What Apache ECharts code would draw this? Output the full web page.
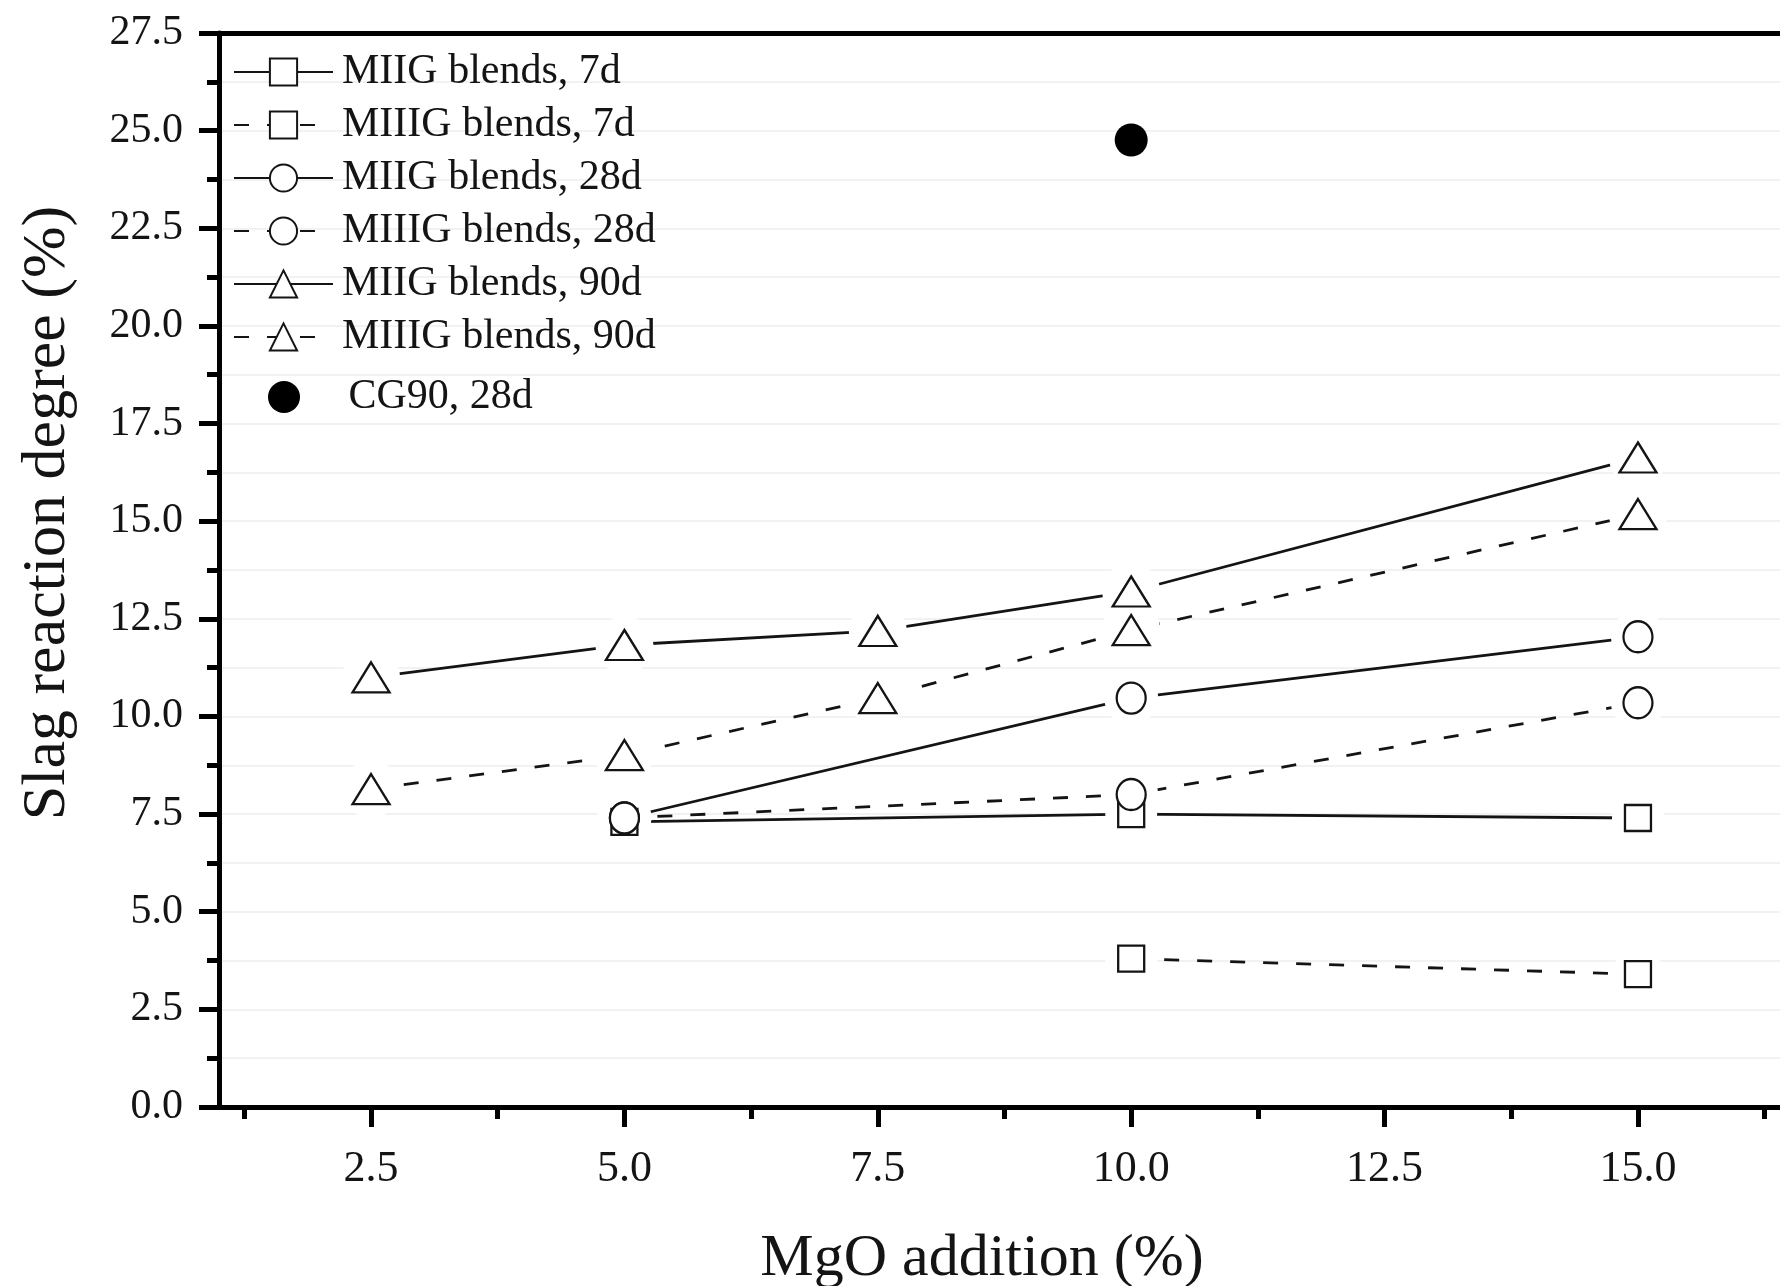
<!DOCTYPE html>
<html>
<head>
<meta charset="utf-8">
<title>Slag reaction degree vs MgO addition</title>
<script src="https://cdn.jsdelivr.net/npm/echarts@6/dist/echarts.min.js"></script>
<style>
  html, body { margin: 0; padding: 0; background: #ffffff; }
  #chart { width: 1780px; height: 1286px; }
</style>
</head>
<body>
<div id="chart"></div>
<script>
// Tick positions on the MgO axis
const xMajorTicks = [2.5, 5.0, 7.5, 10.0, 12.5, 15.0];
const xMinorTicks = [1.25, 3.75, 6.25, 8.75, 11.25, 13.75, 16.25];

// Slag reaction degree (%) against MgO addition (%)
const miig7d   = [[5.0, 7.3], [10.0, 7.5], [15.0, 7.4]];
const miiig7d  = [[10.0, 3.8], [15.0, 3.4]];
const miig28d  = [[5.0, 7.4], [10.0, 10.47], [15.0, 12.04]];
const miiig28d = [[5.0, 7.4], [10.0, 8.0], [15.0, 10.35]];
const miig90d  = [[2.5, 11.0], [5.0, 11.83], [7.5, 12.19], [10.0, 13.2], [15.0, 16.63]];
const miiig90d = [[2.5, 8.14], [5.0, 9.01], [7.5, 10.47], [10.0, 12.21], [15.0, 15.18]];
const cg90_28d = [[10.0, 24.76]];

const FONT = '"Liberation Serif", "Times New Roman", serif';
const INK = '#141414';
const DASH = [15, 18];

const blendSeries = [
  { name: 'MIIG blends, 7d',   data: miig7d,   symbol: 'rect',     size: [26, 26], clear: 52, dashed: false },
  { name: 'MIIIG blends, 7d',  data: miiig7d,  symbol: 'rect',     size: [26, 26], clear: 52, dashed: true },
  { name: 'MIIG blends, 28d',  data: miig28d,  symbol: 'circle',   size: [29, 31], clear: 54, dashed: false },
  { name: 'MIIIG blends, 28d', data: miiig28d, symbol: 'circle',   size: [29, 31], clear: 54, dashed: true },
  { name: 'MIIG blends, 90d',  data: miig90d,  symbol: 'triangle', size: [37, 30], clear: 58, dashed: false },
  { name: 'MIIIG blends, 90d', data: miiig90d, symbol: 'triangle', size: [37, 30], clear: 58, dashed: true }
];

const series = [];
blendSeries.forEach(function (s, i) {
  // connecting line (its symbol is only used for the legend icon)
  series.push({
    type: 'line',
    name: s.name,
    data: s.data,
    symbol: s.symbol,
    symbolSize: s.size,
    showSymbol: false,
    z: 2,
    silent: true,
    lineStyle: { color: INK, width: 2.8, type: s.dashed ? DASH : 'solid' },
    itemStyle: { color: '#ffffff', borderColor: INK, borderWidth: 2.2, opacity: 1 }
  });
  // white clearance around each marker so lines stop short of it
  series.push({
    type: 'scatter',
    id: 'clear-' + i,
    data: s.data,
    symbol: 'circle',
    symbolSize: s.clear,
    z: 3,
    silent: true,
    itemStyle: { color: '#ffffff', borderWidth: 0, opacity: 1 }
  });
  // hollow markers
  series.push({
    type: 'scatter',
    id: 'mark-' + i,
    data: s.data,
    symbol: s.symbol,
    symbolSize: s.size,
    z: 4,
    silent: true,
    itemStyle: { color: '#ffffff', borderColor: INK, borderWidth: 2.3, opacity: 1 }
  });
});
series.push({
  type: 'scatter',
  name: 'CG90, 28d',
  data: cg90_28d,
  symbol: 'circle',
  symbolSize: 33,
  z: 5,
  silent: true,
  itemStyle: { color: '#000000', opacity: 1 }
});

const fmt1 = function (v) { return Number(v).toFixed(1); };

const baseX = {
  type: 'value',
  min: 1,
  max: 16.5,
  splitLine: { show: false },
  axisLine: { onZero: false }
};

const option = {
  animation: false,
  backgroundColor: '#ffffff',
  grid: { left: 219, top: 33, right: -10, bottom: 179, containLabel: false, outerBoundsMode: 'none' },
  xAxis: [
    Object.assign({}, baseX, {
      position: 'bottom',
      axisLine: { show: true, onZero: false, lineStyle: { color: '#000', width: 5 } },
      axisTick: { show: true, customValues: xMajorTicks, length: 20, lineStyle: { color: '#000', width: 5 } },
      axisLabel: {
        show: true, customValues: xMajorTicks, formatter: fmt1,
        fontFamily: FONT, fontSize: 44, color: INK, margin: 40
      }
    }),
    Object.assign({}, baseX, {
      position: 'bottom',
      axisLine: { show: false, onZero: false },
      axisTick: { show: true, customValues: xMinorTicks, length: 12, lineStyle: { color: '#000', width: 5 } },
      axisLabel: { show: false }
    }),
    Object.assign({}, baseX, {
      position: 'top',
      axisLine: { show: true, onZero: false, lineStyle: { color: '#000', width: 5 } },
      axisTick: { show: false },
      axisLabel: { show: false }
    })
  ],
  yAxis: {
    type: 'value',
    min: 0,
    max: 27.5,
    interval: 2.5,
    axisLine: { show: true, onZero: false, lineStyle: { color: '#000', width: 5 } },
    axisTick: { show: true, length: 20, lineStyle: { color: '#000', width: 5 } },
    minorTick: { show: true, splitNumber: 2, length: 12, lineStyle: { color: '#000', width: 5 } },
    axisLabel: { formatter: fmt1, fontFamily: FONT, fontSize: 42, color: INK, margin: 36 },
    splitLine: { show: true, lineStyle: { color: '#f2f2f2', width: 2 } },
    minorSplitLine: { show: true, lineStyle: { color: '#f2f2f2', width: 2 } }
  },
  legend: [
    {
      orient: 'vertical',
      left: 228,
      top: 46,
      itemWidth: 99,
      itemHeight: 34,
      itemGap: 11,
      selectedMode: false,
      data: blendSeries.map(function (s) { return s.name; }),
      textStyle: { fontFamily: FONT, fontSize: 42, color: INK, padding: [0, 0, 0, 4] }
    },
    {
      orient: 'vertical',
      left: 263,
      top: 371,
      itemWidth: 99,
      itemHeight: 32,
      selectedMode: false,
      data: ['CG90, 28d'],
      itemStyle: { opacity: 1 },
      textStyle: { fontFamily: FONT, fontSize: 42, color: INK, padding: [0, 0, 0, 10] }
    }
  ],
  graphic: [
    {
      type: 'text',
      x: 48,
      y: 513,
      rotation: Math.PI / 2,
      style: {
        text: 'Slag reaction degree (%)',
        font: '62px ' + FONT,
        fill: INK,
        align: 'center',
        verticalAlign: 'middle'
      }
    },
    {
      type: 'text',
      x: 982,
      y: 1259,
      style: {
        text: 'MgO addition (%)',
        font: '60px ' + FONT,
        fill: INK,
        align: 'center',
        verticalAlign: 'middle'
      }
    }
  ],
  series: series
};

const chart = echarts.init(document.getElementById('chart'), null, { renderer: 'canvas' });
chart.setOption(option);
</script>
</body>
</html>
